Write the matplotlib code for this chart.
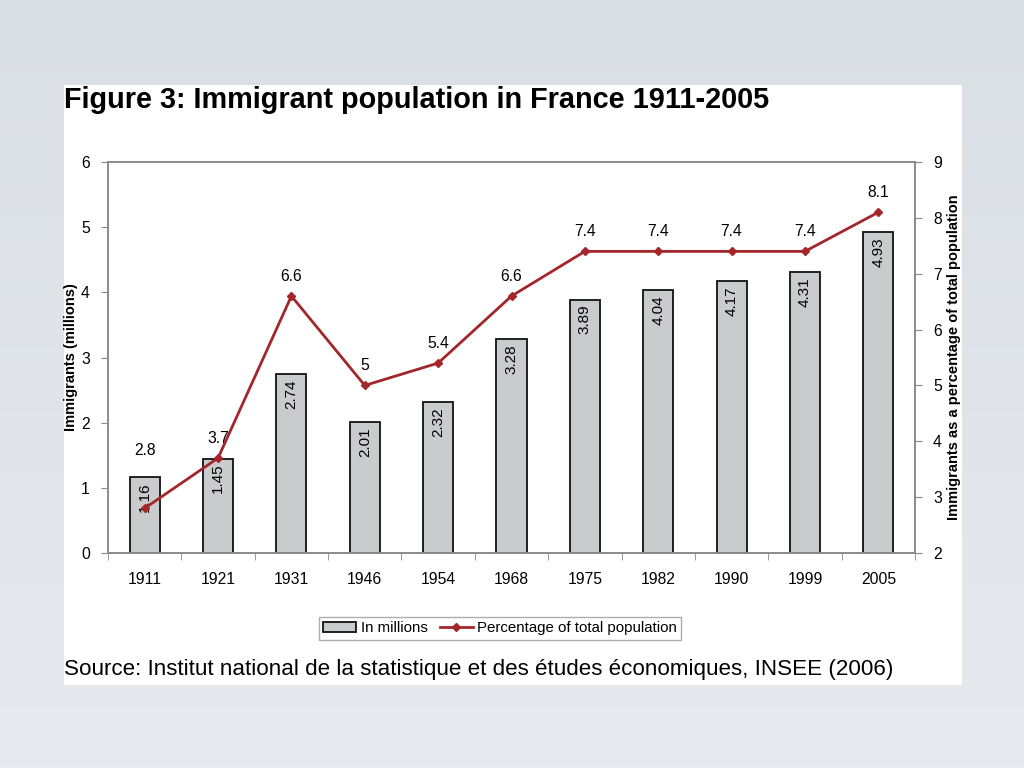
import matplotlib.pyplot as plt
import numpy as np
from matplotlib.patches import Rectangle
from matplotlib.colors import LinearSegmentedColormap

plt.rcParams['font.family'] = ['Liberation Sans', 'DejaVu Sans']

years = ['1911', '1921', '1931', '1946', '1954', '1968', '1975', '1982', '1990', '1999', '2005']
millions = [1.16, 1.45, 2.74, 2.01, 2.32, 3.28, 3.89, 4.04, 4.17, 4.31, 4.93]
percent = [2.8, 3.7, 6.6, 5.0, 5.4, 6.6, 7.4, 7.4, 7.4, 7.4, 8.1]
percent_labels = ['2.8', '3.7', '6.6', '5', '5.4', '6.6', '7.4', '7.4', '7.4', '7.4', '8.1']

fig = plt.figure(figsize=(10.24, 7.68), dpi=100)

# slide background with a soft gradient
bg = fig.add_axes([0, 0, 1, 1], zorder=-10)
grad = np.linspace(0, 1, 256).reshape(-1, 1)
bg.imshow(grad, aspect='auto', interpolation='bilinear',
          cmap=LinearSegmentedColormap.from_list('bg', ['#dadfe5', '#e7eaee']),
          extent=[0, 1, 0, 1])
bg.axis('off')

# white panel
fig.patches.append(Rectangle((64 / 1024, 1 - 685 / 768), (962 - 64) / 1024, (685 - 85) / 768,
                             transform=fig.transFigure, facecolor='white', edgecolor='none', zorder=-5))

fig.text(64 / 1024, 1 - 100 / 768, 'Figure 3: Immigrant population in France 1911-2005',
         fontsize=20.8, fontweight='bold', va='center', ha='left')
fig.text(64 / 1024, 1 - 669 / 768,
         'Source: Institut national de la statistique et des études économiques, INSEE (2006)',
         fontsize=16.1, va='center', ha='left')

ax = fig.add_axes([108 / 1024, 1 - 553 / 768, (915 - 108) / 1024, (553 - 162) / 768])
x = np.arange(len(years))
bars = ax.bar(x, millions, width=0.41, color='#c9cbcc', edgecolor='#111111', linewidth=1.3,
              label='In millions', zorder=2)
for xi, v in zip(x, millions):
    ax.text(xi, v - 0.08, f'{v:.2f}', rotation=90, ha='center', va='top', fontsize=11, zorder=3)

ax.set_xlim(-0.5, len(years) - 0.5)
ax.set_ylim(0, 6)
ax.set_yticks(range(0, 7))
ax.set_xticks(x)
ax.set_xticklabels(years)
ax.set_xticks(np.arange(-0.5, len(years)), minor=True)
ax.tick_params(axis='x', which='major', length=0, pad=14, labelsize=11.3)
ax.tick_params(axis='x', which='minor', length=5, direction='out', color='#888888')
ax.tick_params(axis='y', length=5, direction='out', color='#888888', labelsize=11.3, pad=8)
ax.set_ylabel('Immigrants (millions)', fontsize=10.5, fontweight='bold', labelpad=2)
for s in ax.spines.values():
    s.set_color('#8a8a8a')
    s.set_linewidth(1.2)

ax2 = ax.twinx()
line, = ax2.plot(x, percent, color='#a3262a', linewidth=2, marker='D', markersize=4,
                 label='Percentage of total population', zorder=4)
ax2.set_ylim(2, 9)
ax2.set_yticks(range(2, 10))
ax2.tick_params(axis='y', length=5, direction='out', color='#888888', labelsize=11.3, pad=8)
ax2.set_ylabel('Immigrants as a percentage of total population', fontsize=10.5,
               fontweight='bold', labelpad=4)
for s in ax2.spines.values():
    s.set_color('#8a8a8a')
    s.set_linewidth(1.2)

for i, (xi, v, lab) in enumerate(zip(x, percent, percent_labels)):
    off = 58 if i == 0 else 20
    ax2.annotate(lab, (xi, v), xytext=(0, off), textcoords='offset pixels',
                 ha='center', va='center', fontsize=11.3)

leg = fig.legend([bars, line], ['In millions', 'Percentage of total population'],
                 loc='center', bbox_to_anchor=(500 / 1024, 1 - 628 / 768), ncol=2,
                 fontsize=10.8, frameon=True, fancybox=False, edgecolor='#999999',
                 handlelength=2.2, handletextpad=0.3, columnspacing=0.8, borderpad=0.3)
leg.get_frame().set_linewidth(1.0)

fig.savefig('out.png', dpi=100)
